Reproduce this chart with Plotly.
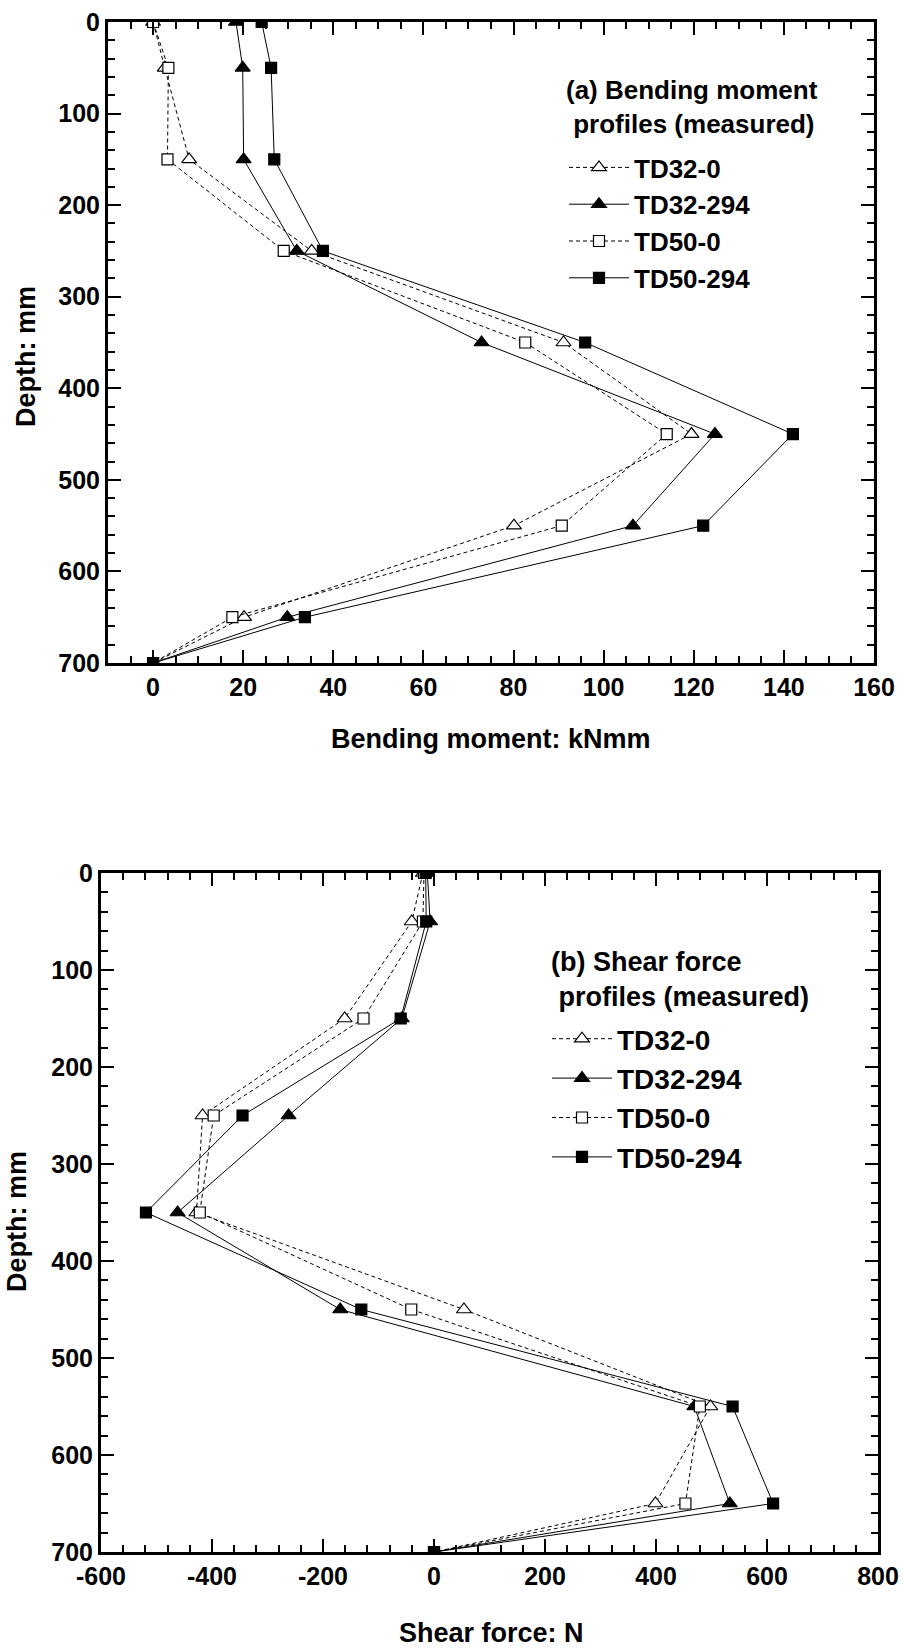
import plotly.graph_objects as go

# ---------------- data ----------------
depth = [0, 50, 150, 250, 350, 450, 550, 650, 700]
series_names = ["TD32-0", "TD32-294", "TD50-0", "TD50-294"]

# (a) bending moment (kNmm)
bm_td32_0 = [0, 2.6, 8.0, 35.2, 91.1, 119.5, 80.1, 20.2, 0]
bm_td32_294 = [18.4, 19.9, 20.1, 31.9, 72.9, 124.7, 106.5, 29.8, 0]
bm_td50_0 = [0, 3.4, 3.2, 29.0, 82.6, 114.0, 90.7, 17.6, 0]
bm_td50_294 = [24.1, 26.2, 26.9, 37.7, 95.9, 142.0, 122.1, 33.7, 0]

# (b) shear force (N)
sf_td32_0 = [-20, -40, -161, -417, -428, 54, 498, 399, 0]
sf_td32_294 = [-12, -7, -58, -262, -462, -169, 469, 533, 0]
sf_td50_0 = [-18, -20, -127, -397, -422, -41, 479, 453, 0]
sf_td50_294 = [-15, -14, -60, -345, -519, -131, 538, 611, 0]

bm_xticks = [0, 20, 40, 60, 80, 100, 120, 140, 160]
sf_xticks = [-600, -400, -200, 0, 200, 400, 600, 800]
sf_xticklabels = ["-600", "-400", "-200", "0", "200", "400", "600", "800"]
depth_ticks = [0, 100, 200, 300, 400, 500, 600, 700]

# ---------------- styling ----------------
W, H = 903, 1649
FONT = "Arial, Liberation Sans, Helvetica, sans-serif"

styles = {
    "TD32-0": dict(symbol="triangle-up", fill="white", dash="4px,3px", size=13),
    "TD32-294": dict(symbol="triangle-up", fill="black", dash="solid", size=13),
    "TD50-0": dict(symbol="square", fill="white", dash="4px,3px", size=11),
    "TD50-294": dict(symbol="square", fill="black", dash="solid", size=11),
}

bm_data = [bm_td32_0, bm_td32_294, bm_td50_0, bm_td50_294]
sf_data = [sf_td32_0, sf_td32_294, sf_td50_0, sf_td50_294]

fig = go.Figure()

for name, xs in zip(series_names, bm_data):
    st = styles[name]
    fig.add_trace(go.Scatter(
        x=xs, y=depth, name=name, mode="lines+markers",
        xaxis="x", yaxis="y", legend="legend",
        line=dict(color="black", width=1, dash=st["dash"]),
        marker=dict(symbol=st["symbol"], size=st["size"], color=st["fill"],
                    line=dict(color="black", width=1.2)),
    ))

for name, xs in zip(series_names, sf_data):
    st = styles[name]
    fig.add_trace(go.Scatter(
        x=xs, y=depth, name=name, mode="lines+markers",
        xaxis="x2", yaxis="y2", legend="legend2",
        line=dict(color="black", width=1, dash=st["dash"]),
        marker=dict(symbol=st["symbol"], size=st["size"], color=st["fill"],
                    line=dict(color="black", width=1.2)),
    ))

# invisible helper traces so the mirrored tick axes (top / right) are drawn
for xa, ya, xs in [("x3", "y", bm_td32_0), ("x", "y3", bm_td32_0),
                   ("x4", "y2", sf_td32_0), ("x2", "y4", sf_td32_0)]:
    fig.add_trace(go.Scatter(x=xs, y=depth, xaxis=xa, yaxis=ya, mode="lines",
                             opacity=0, showlegend=False, hoverinfo="skip",
                             line=dict(width=0.1, color="white")))


def px_x(p):
    return p / W


def px_y(p):
    return 1 - p / H


tickfont = dict(family=FONT, size=25, color="black", weight="bold")
axis_common = dict(
    showline=True, linecolor="black", linewidth=3, mirror=True,
    ticks="inside", ticklen=13, tickwidth=2, tickcolor="black",
    showgrid=False, zeroline=False, tickfont=tickfont,
)
mirror_common = dict(
    showline=False, ticks="inside", ticklen=13, tickwidth=2, tickcolor="black",
    showgrid=False, zeroline=False, showticklabels=False,
)


def minor(d):
    return dict(dtick=d, ticklen=7, tickwidth=2, ticks="inside", tickcolor="black")


TOP_X = [px_x(108), px_x(874)]
TOP_Y = [px_y(663), px_y(22)]
BOT_X = [px_x(101), px_x(878)]
BOT_Y = [px_y(1552), px_y(873)]

fig.update_layout(
    width=W, height=H,
    margin=dict(l=0, r=0, t=0, b=0, autoexpand=False),
    paper_bgcolor="white", plot_bgcolor="white",
    xaxis=dict(domain=TOP_X, anchor="y", range=[-10, 160], tickvals=bm_xticks,
               minor=minor(5), **axis_common),
    yaxis=dict(domain=TOP_Y, anchor="x", range=[700, 0], tickvals=depth_ticks,
               minor=minor(20), **axis_common),
    xaxis3=dict(domain=TOP_X, anchor="y", overlaying="x", side="top", range=[-10, 160],
                tickvals=bm_xticks, minor=minor(5), **mirror_common),
    yaxis3=dict(domain=TOP_Y, anchor="x", overlaying="y", side="right", range=[700, 0],
                tickvals=depth_ticks, minor=minor(20), **mirror_common),
    xaxis2=dict(domain=BOT_X, anchor="y2", range=[-600, 800],
                tickvals=sf_xticks, ticktext=sf_xticklabels,
                minor=minor(40), **axis_common),
    yaxis2=dict(domain=BOT_Y, anchor="x2", range=[700, 0], tickvals=depth_ticks,
                minor=minor(20), **axis_common),
    xaxis4=dict(domain=BOT_X, anchor="y2", overlaying="x2", side="top", range=[-600, 800],
                tickvals=sf_xticks, minor=minor(40), **mirror_common),
    yaxis4=dict(domain=BOT_Y, anchor="x2", overlaying="y2", side="right", range=[700, 0],
                tickvals=depth_ticks, minor=minor(20), **mirror_common),
    legend=dict(x=px_x(564), y=px_y(144), xanchor="left", yanchor="top",
                bgcolor="rgba(0,0,0,0)", itemwidth=60,
                font=dict(family=FONT, size=26, color="black", weight="bold")),
    legend2=dict(x=px_x(547), y=px_y(1014), xanchor="left", yanchor="top",
                 bgcolor="rgba(0,0,0,0)", itemwidth=60,
                 font=dict(family=FONT, size=28, color="black", weight="bold")),
    showlegend=True,
)

title_font = dict(family=FONT, size=27, color="black", weight="bold")
leg_title_font = dict(family=FONT, size=26, color="black", weight="bold")
ann = [
    dict(text="(a) Bending moment<br>\u00a0profiles (measured)", x=px_x(564), y=px_y(107),
         xref="paper", yref="paper", showarrow=False, xanchor="left", yanchor="middle",
         font=leg_title_font, align="left"),
    dict(text="(b) Shear force<br>\u00a0profiles (measured)", x=px_x(549), y=px_y(979),
         xref="paper", yref="paper", showarrow=False, xanchor="left", yanchor="middle",
         font=dict(family=FONT, size=27, color="black", weight="bold"), align="left"),
    dict(text="Bending moment: kNmm", x=px_x(491), y=px_y(739),
         xref="paper", yref="paper", showarrow=False, xanchor="center", yanchor="middle",
         font=title_font),
    dict(text="Shear force: N", x=px_x(491), y=px_y(1633),
         xref="paper", yref="paper", showarrow=False, xanchor="center", yanchor="middle",
         font=title_font),
    dict(text="Depth: mm", x=px_x(26), y=px_y(357), textangle=-90,
         xref="paper", yref="paper", showarrow=False, xanchor="center", yanchor="middle",
         font=title_font),
    dict(text="Depth: mm", x=px_x(17), y=px_y(1222), textangle=-90,
         xref="paper", yref="paper", showarrow=False, xanchor="center", yanchor="middle",
         font=title_font),
]
fig.update_layout(annotations=ann)

fig.write_html("out.html")
